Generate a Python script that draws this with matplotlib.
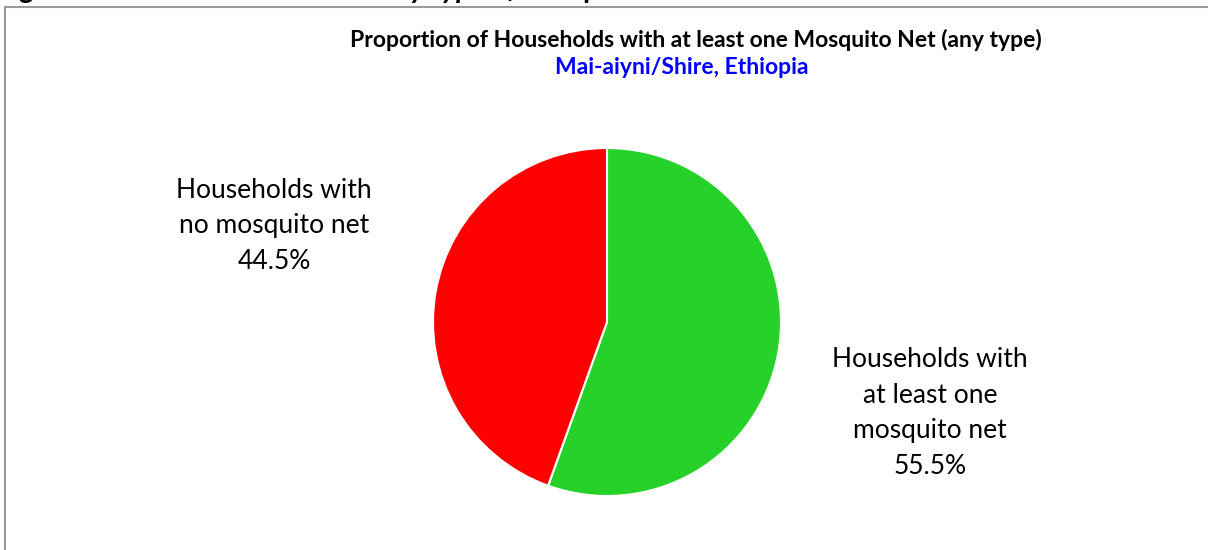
import numpy as np
import matplotlib.pyplot as plt
from matplotlib.patches import Rectangle

plt.rcParams['font.family'] = ['Lato', 'DejaVu Sans']

# Household net ownership shares (%)
categories = ["Households with\nat least one\nmosquito net", "Households with\nno mosquito net"]
shares = [55.5, 44.5]
colors = ["#26D12A", "#FF0000"]

W, H = 1208, 550
fig = plt.figure(figsize=(W / 100, H / 100), dpi=100)
ax = fig.add_axes([0, 0, 1, 1])

cx, cy, r = 607, H - 322, 174
ax.pie(shares, colors=colors, startangle=90, counterclock=False,
       center=(cx, cy), radius=r, frame=True,
       wedgeprops=dict(edgecolor="white", linewidth=1.5))
ax.set_xlim(0, W)
ax.set_ylim(0, H)
ax.set_aspect("equal")
ax.axis("off")

# chart frame
ax.add_patch(Rectangle((5, -10), W + 10, H - 7 + 10, fill=False,
                       edgecolor="#9a9a9a", linewidth=1.5))

# caption above the frame (only its lower part falls on the page)
ax.text(-2, H + 2, "Figure 5: Households that own any type of Mosquito Net",
        fontsize=21, fontweight="bold", style="italic", ha="left", va="baseline")

ax.text(696, H - 40, "Proportion of Households with at least one Mosquito Net (any type)",
        fontsize=16.5, fontweight="bold", ha="center", va="center")
ax.text(682, H - 68, "Mai-aiyni/Shire, Ethiopia",
        fontsize=16.5, fontweight="bold", color="#0000FF", ha="center", va="center")

# slice labels
ax.text(930, H - 413, f"{categories[0]}\n{shares[0]:.1f}%", fontsize=19,
        ha="center", va="center", linespacing=1.52)
ax.text(274, H - 226, f"{categories[1]}\n{shares[1]:.1f}%", fontsize=19,
        ha="center", va="center", linespacing=1.52)

fig.savefig("out.png", dpi=100)
